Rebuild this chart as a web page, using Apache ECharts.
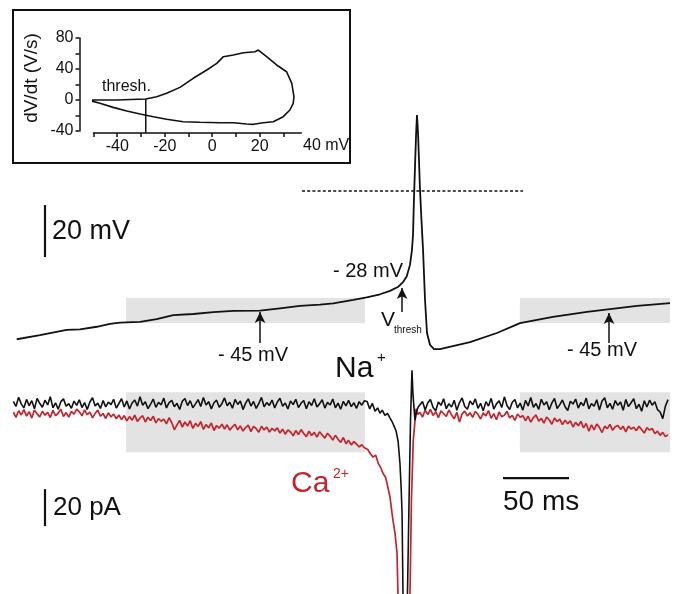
<!DOCTYPE html>
<html><head><meta charset="utf-8">
<script src="https://cdn.jsdelivr.net/npm/echarts@6/dist/echarts.min.js"></script>
<style>html,body{margin:0;padding:0;background:#fff}#c{width:676px;height:594px}</style>
</head><body><div id="c"></div>
<script>
// ---------- DATA ----------
// Phase plot (inset): membrane potential (mV) vs dV/dt (V/s)
const phaseV = [-52.2,-40.2,-28.0,-23.4,-19.2,-13.6,-8.0,-2.3,1.9,4.7,8.9,13.1,18.0,19.4,22.9,27.1,31.3,33.5,34.4,34.1,32.7,29.9,25.7,21.5,17.3,14.5,8.9,3.3,-5.2,-12.2,-19.2,-24.8,-30.4,-36.0,-41.7,-47.3,-52.2];
const phaseD = [0,0,1.3,4.3,8.6,16.3,28,38.7,47.3,55.9,58,61,62.3,64.5,55.9,45.2,36.5,21.5,4.3,-4.3,-12.9,-21.5,-28,-29.3,-31.4,-31,-29.3,-29.3,-28.8,-28,-24.9,-21.5,-18,-14.2,-9.5,-4.3,0];
const threshV = -28;

// Membrane potential trace: time (ms), voltage (mV)
const vmT = [3.6,21.2,41.4,51.5,64.2,74.2,81.8,97,109.6,122.2,137.3,152.5,167.7,187.9,203,218.2,233.3,243.4,258.6,268.7,278.8,286.4,292.7,296.4,299,301.5,303,303.8,304.5,305.3,306.1,306.8,307.6,309.1,310.2,311.4,312.9,314.4,316.7,319.7,324.2,347,367.4,384.8,409.8,435.6,453,473.5,498.5];
const vmV = [-52.4,-50.8,-48.8,-48.6,-47.6,-46.5,-46.0,-45.7,-44.7,-43.1,-42.7,-42.0,-41.5,-41.4,-40.5,-39.6,-39.1,-38.6,-37.3,-36.3,-35.1,-33.8,-32.2,-30.3,-28.3,-23.8,-18.1,-12.3,1.2,13.8,26.2,33.8,26.9,5,-6.5,-18.1,-37.3,-50,-54.6,-56.2,-56.2,-53.5,-50,-46.2,-43.8,-41.9,-40.8,-39.6,-38.5];

// Current traces (pA), sampled every 2 ms before (from 1 ms) and after (from 309 ms) the spike
const SAMPLE_STEP = 2, PRE_T0 = 1, POST_T0 = 309;
const naPre = [1.5,-1.2,3.8,0.2,-2.0,2.6,-0.8,1.9,-2.5,3.2,0.5,-1.6,2.2,-0.4,4.1,-1.9,0.8,-2.7,1.4,2.9,
-1.1,0.3,-2.2,1.7,-0.6,2.4,-1.8,0.9,-2.9,1.2,3.5,-0.9,0.6,-2.3,2.0,-1.4,1.1,-0.2,2.7,-2.1,
0.4,3.0,-1.5,1.8,-2.6,0.7,2.3,-1.0,4.0,-0.5,1.3,-2.4,0.1,2.8,-1.7,1.0,-0.3,3.3,-2.0,0.9,
2.1,-1.3,0.5,-2.8,1.6,3.1,-0.7,1.9,-1.9,0.2,2.5,-1.2,3.6,-0.4,1.4,-2.5,0.8,2.2,-1.6,0.3,
3.4,-0.8,1.1,-2.2,2.6,-0.1,1.7,-2.9,0.6,2.9,-1.0,1.5,-2.3,0.4,3.7,-1.4,0.9,-0.6,2.3,-2.0,
1.2,3.2,-1.1,0.7,-2.6,1.8,-0.2,2.7,-1.8,0.5,2.0,-2.4,1.3,-0.7,3.0,-1.5,0.2,2.4,-2.1,1.0,
-0.4,2.8,-1.9,0.6,-2.7,1.6,-0.9,2.1,-1.3,0.8,-2.2,1.4,-0.5,1.9];
const naSpike = [[269,1.5],[271,-2.5],[273,0.5],[275,-3.8],[277,-2.0],[278.8,-4.9],[280.5,-3.2],[282.5,-6.0],[284.5,-5.0],[286.4,-7.5],[288,-9.5],[289.5,-12],[291,-14.5],[292.5,-20],[293.9,-31.9],[294.8,-45],[295.5,-58.9],[296.2,-102.7],[297,-160],[299,-160],[299.6,-102.7],[300.8,-51.9],[301.9,-8.6],[303,18.4],[303.8,4.9],[305.3,-8.6],[306.5,-4],[307.6,-1.6]];
const naPost = [-2.0,1.5,-3.1,0.8,2.6,-1.7,-3.5,1.2,-0.6,3.0,-2.4,0.3,-1.5,2.2,-3.3,0.9,3.4,-1.2,-2.7,1.8,
-0.3,2.9,-2.2,0.5,-3.6,1.4,-1.0,3.2,-2.6,0.2,1.9,-1.8,4.0,-0.7,-2.9,1.1,2.5,-2.0,0.6,-3.2,
2.1,-0.9,3.6,-1.6,0.4,-2.8,2.7,-0.4,1.3,-3.0,0.7,3.1,-2.3,-0.2,2.3,-1.4,-3.4,1.6,0.1,2.8,
-2.1,1.0,-0.8,3.3,-2.5,0.3,-1.1,2.4,-3.1,1.7,3.5,-1.9,0.5,-2.7,2.0,-0.6,1.2,-3.3,2.6,-1.3,
0.8,3.0,-2.4,0.0,-3.8,1.9,-1.5,2.2,-0.5,1.4,-2.9,-4.2,-7.8,-1.0,2.5];

const caPre = [-4.2,-7.1,-3.5,-5.8,-2.9,-6.4,-4.0,-7.5,-3.1,-5.2,-6.8,-3.8,-5.9,-4.4,-7.2,-3.3,-6.1,-4.8,-2.7,-6.6,
-4.5,-7.0,-3.9,-5.4,-2.6,-4.1,-6.3,-3.0,-5.7,-4.2,-7.4,-4.9,-3.2,-6.5,-5.0,-7.7,-4.6,-6.9,-5.3,-7.9,
-5.8,-8.3,-6.1,-9.0,-6.7,-8.6,-5.9,-9.3,-7.4,-6.2,-9.6,-7.0,-8.8,-6.5,-10.1,-7.8,-9.2,-8.0,-10.6,-7.3,
-9.9,-13.8,-11.2,-8.7,-12.4,-9.6,-11.8,-8.9,-13.1,-10.3,-12.0,-9.4,-13.6,-11.0,-12.7,-10.1,-14.2,-11.5,-12.9,-10.8,
-13.4,-11.1,-14.0,-12.2,-10.9,-13.8,-11.7,-14.5,-12.6,-11.3,-14.8,-12.0,-13.2,-15.1,-11.9,-13.9,-12.4,-15.0,-13.0,-14.4,
-12.8,-15.6,-13.5,-16.2,-13.9,-15.0,-17.1,-14.2,-16.4,-13.7,-15.8,-17.5,-14.6,-16.9,-15.2,-17.8,-14.9,-16.6,-18.3,-15.7,
-17.2,-19.4,-16.8,-18.9,-20.6,-18.0,-21.3,-19.5,-22.0,-20.2,-21.5,-23.1,-21.9,-23.5];
const caSpike = [[269.5,-24.5],[271.5,-26.8],[273.5,-28.6],[275.5,-27.5],[277.5,-32],[279.5,-34.5],[281,-37.3],[283,-39.5],[284.5,-44],[286.4,-50.3],[287.9,-58.9],[288.6,-62.7],[290.2,-70],[291.7,-80.5],[292.4,-102.7],[293.2,-133],[294,-170],[300.5,-170],[301.5,-102.7],[302.6,-51.9],[304,-19.5],[306.1,-2.5],[307.5,-5.5]];
const caPost = [-4.4,-6.9,-3.2,-5.6,-2.8,-6.1,-4.0,-7.3,-3.6,-5.0,-6.6,-3.1,-5.8,-7.9,-4.3,-9.6,-5.2,-3.7,-6.4,-4.6,
-7.1,-3.9,-5.5,-8.0,-4.7,-6.3,-3.4,-7.6,-5.1,-8.4,-4.2,-6.8,-5.9,-3.8,-7.4,-6.0,-8.7,-5.3,-7.0,-6.2,
-8.9,-6.5,-9.7,-7.2,-5.8,-9.1,-7.7,-10.2,-6.9,-8.5,-10.8,-7.5,-9.4,-8.1,-11.0,-8.6,-10.5,-9.0,-12.3,-9.8,
-11.6,-9.3,-12.8,-10.4,-14.6,-11.2,-13.9,-10.7,-12.5,-15.3,-11.9,-13.2,-10.9,-14.1,-12.2,-11.5,-13.6,-12.0,-14.9,-11.8,
-13.4,-12.4,-14.3,-11.9,-13.8,-15.6,-12.7,-14.0,-13.1,-15.9,-14.6,-16.8,-15.2,-17.5,-16.4];

// Analysis windows (ms) and the voltage / current bands they span
const windowsMs = [[86.4,267.4],[384.8,498.5]];
const vmBand = [-36.5,-46.2];
const iBand = [6.5,-25.9];
// Arrow annotations: [time, from mV, to mV]
const arrows = [[187.9,-53.8,-41.9],[452.3,-53.8,-42.3],[295.5,-41.9,-32.7]];
const refLine = {t:[219.7,387.1], v:4.6};

// ---------- BUILD ----------
const RED = '#c4242b';
const FONT = '"Liberation Sans", Arial, Helvetica, sans-serif';
function build(pre, spike, post){
  return pre.map((v,i)=>[PRE_T0+i*SAMPLE_STEP, v]).concat(spike, post.map((v,i)=>[POST_T0+i*SAMPLE_STEP, v]));
}
const naData = build(naPre, naSpike, naPost);
const caData = build(caPre, caSpike, caPost);
const vmData = vmT.map((t,i)=>[t, vmV[i]]);
const phaseData = phaseV.map((v,i)=>[v, phaseD[i]]);

const chart = echarts.init(document.getElementById('c'), null, {renderer:'canvas'});
function txt(x,y,text,size,opt){
  opt = opt||{};
  return {type:'text', silent:true, z:10, x:x, y:y, rotation:opt.rot||0,
    style:{text:text, font:size+'px '+FONT, fill:opt.color||'#111', align:opt.align||'left', verticalAlign:'middle'}};
}
const lineBase = {type:'line', symbol:'none', silent:true, animation:false, smooth:false};

chart.setOption({
  animation:false,
  backgroundColor:'#fff',
  grid:[
    {left:12, width:660, top:99, height:260, outerBoundsMode:'none'},
    {left:12, width:660, top:358, height:236, outerBoundsMode:'none'},
    {left:93.5, width:207.8, top:38, height:93, outerBoundsMode:'none'}
  ],
  xAxis:[
    {type:'value', gridIndex:0, min:0, max:500, show:false},
    {type:'value', gridIndex:1, min:0, max:500, show:false},
    {type:'value', gridIndex:2, min:-50, max:37.5, offset:2,
      axisLine:{show:true, onZero:false, lineStyle:{color:'#111', width:1.5}},
      axisTick:{show:true, length:4, inside:false, customValues:[-50,-40,-30,-20,-10,0,10,20,30], lineStyle:{color:'#111',width:1.5}},
      axisLabel:{show:true, margin:6, customValues:[-40,-20,0,20], color:'#111', fontSize:16, fontFamily:FONT},
      splitLine:{show:false}}
  ],
  yAxis:[
    {type:'value', gridIndex:0, min:-60, max:40, show:false},
    {type:'value', gridIndex:1, min:-102.6, max:25, show:false},
    {type:'value', gridIndex:2, min:-40, max:80, offset:14,
      axisLine:{show:true, onZero:false, lineStyle:{color:'#111', width:1.5}},
      axisTick:{show:true, length:4, customValues:[-40,-20,0,20,40,60,80], lineStyle:{color:'#111',width:1.5}},
      axisLabel:{show:true, margin:6, customValues:[-40,0,40,80], color:'#111', fontSize:16, fontFamily:FONT},
      splitLine:{show:false}}
  ],
  series:[
    Object.assign({}, lineBase, {xAxisIndex:0, yAxisIndex:0, z:0, data:[],
      markArea:{silent:true, itemStyle:{color:'#e3e3e3'},
        data: windowsMs.map(w=>[{coord:[w[0], vmBand[0]]},{coord:[w[1], vmBand[1]]}])}}),
    Object.assign({}, lineBase, {xAxisIndex:0, yAxisIndex:0, z:2,
      data: refLine.t.map(t=>[t, refLine.v]),
      lineStyle:{color:'#111', width:1.5, type:[3,2.2]}}),
    Object.assign({}, lineBase, {xAxisIndex:0, yAxisIndex:0, z:3, data: vmData,
      lineStyle:{color:'#111', width:1.8},
      markLine:{silent:true, animation:false, symbol:['none','arrow'], symbolSize:[8,11],
        label:{show:false}, lineStyle:{color:'#111', width:1.5, type:'solid'},
        data: arrows.map(a=>[{coord:[a[0],a[1]]},{coord:[a[0],a[2]]}])}}),
    Object.assign({}, lineBase, {xAxisIndex:0, yAxisIndex:0, z:3, data:[[25,-0.8],[25,-20.8]],
      lineStyle:{color:'#111', width:2.2}}),
    Object.assign({}, lineBase, {xAxisIndex:1, yAxisIndex:1, z:0, data:[],
      markArea:{silent:true, itemStyle:{color:'#e3e3e3'},
        data: windowsMs.map(w=>[{coord:[w[0], iBand[0]]},{coord:[w[1], iBand[1]]}])}}),
    Object.assign({}, lineBase, {xAxisIndex:1, yAxisIndex:1, z:2, data: caData,
      lineStyle:{color:RED, width:1.7}}),
    Object.assign({}, lineBase, {xAxisIndex:1, yAxisIndex:1, z:3, data: naData,
      lineStyle:{color:'#111', width:1.6}}),
    Object.assign({}, lineBase, {xAxisIndex:1, yAxisIndex:1, z:3, data:[[25,-45.9],[25,-65.9]],
      lineStyle:{color:'#111', width:2.2}}),
    Object.assign({}, lineBase, {xAxisIndex:1, yAxisIndex:1, z:3, data:[[372,-40],[422,-40]],
      lineStyle:{color:'#111', width:2.2}}),
    Object.assign({}, lineBase, {xAxisIndex:2, yAxisIndex:2, z:3, data: phaseData, clip:false,
      lineStyle:{color:'#111', width:1.6}}),
    Object.assign({}, lineBase, {xAxisIndex:2, yAxisIndex:2, z:3, clip:false,
      data:[[threshV, 1.3],[threshV, -42.5]], lineStyle:{color:'#111', width:1.5}})
  ],
  graphic:[
    {type:'rect', silent:true, z:10, shape:{x:13, y:10, width:337, height:153},
      style:{fill:'none', stroke:'#111', lineWidth:2}},
    txt(32, 78, 'dV/dt (V/s)', 19, {rot:Math.PI/2, align:'center'}),
    txt(102, 87, 'thresh.', 16),
    txt(303, 146, '40 mV', 16),
    txt(52, 232, '20 mV', 27),
    txt(403, 271, '- 28 mV', 20, {align:'right'}),
    txt(381, 320, 'V', 21),
    txt(394, 330, 'thresh', 10),
    txt(218, 355, '- 45 mV', 20),
    txt(567, 350, '- 45 mV', 20),
    txt(335, 369, 'Na', 30),
    txt(377, 358, '+', 15),
    txt(291, 484, 'Ca', 30, {color:RED}),
    txt(333, 474, '2+', 14, {color:RED}),
    txt(53, 508, '20 pA', 26),
    txt(503, 502, '50 ms', 28)
  ]
});
</script></body></html>
